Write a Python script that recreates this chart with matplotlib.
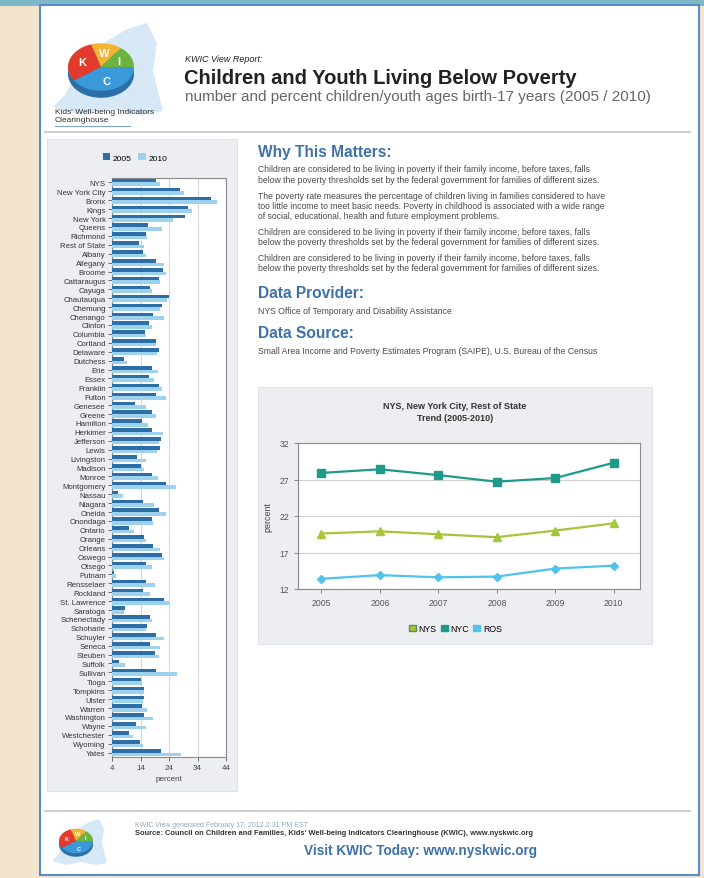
import numpy as np
import matplotlib.pyplot as plt
from matplotlib.patches import Rectangle, Polygon, Patch

plt.rcParams['font.family'] = ['Liberation Sans', 'DejaVu Sans']

# ---- data ----
counties = ['NYS', 'New York City', 'Bronx', 'Kings', 'New York', 'Queens',
            'Richmond', 'Rest of State', 'Albany', 'Allegany', 'Broome',
            'Cattaraugus', 'Cayuga', 'Chautauqua', 'Chemung', 'Chenango',
            'Clinton', 'Columbia', 'Cortland', 'Delaware', 'Dutchess', 'Erie',
            'Essex', 'Franklin', 'Fulton', 'Genesee', 'Greene', 'Hamilton',
            'Herkimer', 'Jefferson', 'Lewis', 'Livingston', 'Madison',
            'Monroe', 'Montgomery', 'Nassau', 'Niagara', 'Oneida', 'Onondaga',
            'Ontario', 'Orange', 'Orleans', 'Oswego', 'Otsego', 'Putnam',
            'Rensselaer', 'Rockland', 'St. Lawrence', 'Saratoga',
            'Schenectady', 'Schoharie', 'Schuyler', 'Seneca', 'Steuben',
            'Suffolk', 'Sullivan', 'Tioga', 'Tompkins', 'Ulster', 'Warren',
            'Washington', 'Wayne', 'Westchester', 'Wyoming', 'Yates']
pct_2005 = [19.6, 27.9, 38.7, 30.5, 29.6, 16.7, 15.8, 13.4, 14.9, 19.6, 21.9,
            20.5, 17.5, 24.0, 21.4, 18.4, 16.9, 15.5, 19.6, 20.5, 8.1, 17.9,
            16.9, 20.5, 19.6, 12.0, 18.1, 14.4, 17.9, 21.1, 20.7, 12.8, 14.0,
            17.9, 22.8, 6.1, 14.9, 20.5, 17.9, 10.1, 15.2, 18.4, 21.6, 16.1,
            4.6, 15.8, 14.9, 22.2, 8.5, 17.3, 16.4, 19.5, 17.5, 19.1, 6.6,
            19.5, 14.0, 15.4, 15.4, 14.6, 15.4, 12.5, 10.1, 13.8, 21.1]
pct_2010 = [21.0, 29.3, 41.0, 32.2, 25.5, 21.6, 16.4, 15.2, 15.8, 22.2, 22.8,
            21.0, 18.1, 23.4, 21.0, 22.2, 17.9, 15.8, 19.3, 19.9, 9.3, 20.2,
            18.7, 21.6, 22.8, 15.8, 19.3, 16.7, 21.9, 20.5, 19.9, 15.8, 15.2,
            20.2, 26.6, 7.8, 18.7, 22.8, 18.4, 11.6, 15.8, 21.0, 22.2, 17.9,
            5.4, 19.1, 17.5, 24.0, 8.1, 17.9, 15.8, 22.2, 21.0, 20.5, 8.5,
            26.9, 14.4, 15.2, 14.9, 16.4, 18.4, 15.8, 11.3, 14.8, 28.1]
bar_ticks = [4, 14, 24, 34, 44]

years = [2005, 2006, 2007, 2008, 2009, 2010]
nys = [19.6, 19.9, 19.5, 19.1, 20.0, 21.0]
nyc = [27.9, 28.4, 27.6, 26.7, 27.2, 29.3]
ros = [13.4, 13.9, 13.6, 13.7, 14.8, 15.2]
line_ticks = [12, 17, 22, 27, 32]

why_paras = [
    ["Children are considered to be living in poverty if their family income, before taxes, falls",
     "below the poverty thresholds set by the federal government for families of different sizes."],
    ["The poverty rate measures the percentage of children living in families considered to have",
     "too little income to meet basic needs. Poverty in childhood is associated with a wide range",
     "of social, educational, health and future employment problems."],
    ["Children are considered to be living in poverty if their family income, before taxes, falls",
     "below the poverty thresholds set by the federal government for families of different sizes."],
    ["Children are considered to be living in poverty if their family income, before taxes, falls",
     "below the poverty thresholds set by the federal government for families of different sizes."],
]
logo_shares = [30, 15, 15, 40]
logo_colors = ['#e23b2e', '#f2b431', '#6db33f', '#3a9ad9']
logo_letters = ['K', 'W', 'I', 'C']

# ---- page ----
W, H = 704, 879
fig = plt.figure(figsize=(W / 100, H / 100), dpi=100)
fig.patch.set_facecolor('#f3e4cd')
bg = fig.add_axes([0, 0, 1, 1])
bg.set_xlim(0, W)
bg.set_ylim(H, 0)
bg.axis('off')


def rect(x0, y0, x1, y1):
    return [x0 / W, 1 - y1 / H, (x1 - x0) / W, (y1 - y0) / H]


bg.add_patch(Rectangle((0, 0), W, 7, color='#7db6c6', lw=0))
bg.add_patch(Rectangle((40, 6), 659, 870, facecolor='white',
                       edgecolor='#5a8ccc', lw=1.5))

blue_head = '#3f72a8'


def logo(cx, cy, r, scale=1.0):
    # rough state silhouette behind the pie
    pts = np.array([(-48, 40), (-36, 28), (-26, 10), (-12, -10), (6, -26),
                    (26, -38), (46, -44), (56, -24), (52, 4), (58, 28),
                    (62, 44), (40, 48), (10, 42), (-20, 48)]) * scale
    bg.add_patch(Polygon(pts + [cx, cy], closed=True, color='#d6e7f5', lw=0))
    sy = 0.72
    th = np.linspace(0, 2 * np.pi, 100)
    side = np.c_[cx + r * np.cos(th), cy + 7 * scale - r * sy * np.sin(th)]
    bg.add_patch(Polygon(side, closed=True, color='#2a6fa8', lw=0))
    start = 215
    for share, col, let in zip(logo_shares, logo_colors, logo_letters):
        a0 = np.radians(start)
        a1 = np.radians(start - share * 3.6)
        t = np.linspace(a0, a1, 40)
        p = np.r_[[[cx, cy]], np.c_[cx + r * np.cos(t), cy - r * sy * np.sin(t)]]
        bg.add_patch(Polygon(p, closed=True, color=col, lw=0))
        am = (a0 + a1) / 2
        bg.text(cx + 0.6 * r * np.cos(am), cy - 0.6 * r * sy * np.sin(am), let,
                color='white', fontsize=8 * scale, fontweight='bold',
                ha='center', va='center')
        start -= share * 3.6


logo(101, 68, 33)
bg.text(55, 113, "Kids' Well-being Indicators", fontsize=6, color='#333', va='center')
bg.text(55, 121, "Clearinghouse", fontsize=6, color='#333', va='center')
bg.plot([55, 130], [126.5, 126.5], color='#7fa7cf', lw=0.8)

bg.text(185, 60, "KWIC View Report:", fontsize=6.5, style='italic', color='#222', va='center')
bg.text(184, 79, "Children and Youth Living Below Poverty", fontsize=14.5,
        fontweight='bold', color='#222', va='center')
bg.text(185, 97, "number and percent children/youth ages birth-17 years (2005 / 2010)",
        fontsize=11, color='#666', va='center')
bg.plot([45, 690], [133, 133], color='#cfcfcf', lw=1.5)

# ---- right text column ----
bg.text(258, 153, "Why This Matters:", fontsize=11.2, fontweight='bold', color=blue_head, va='center')
yy = 170
for para in why_paras:
    for line in para:
        bg.text(258, yy, line, fontsize=6.2, color='#4a4a4a', va='center')
        yy += 10.3
    yy += 5.5
bg.text(258, 294, "Data Provider:", fontsize=11.2, fontweight='bold', color=blue_head, va='center')
bg.text(258, 312, "NYS Office of Temporary and Disability Assistance", fontsize=6.2,
        color='#4a4a4a', va='center')
bg.text(258, 334, "Data Source:", fontsize=11.2, fontweight='bold', color=blue_head, va='center')
bg.text(258, 352, "Small Area Income and Poverty Estimates Program (SAIPE), U.S. Bureau of the Census",
        fontsize=6.2, color='#4a4a4a', va='center')

# ---- bar chart panel ----
bg.add_patch(Rectangle((47, 140), 190, 652, facecolor='#eceef1', edgecolor='#e0e2e6', lw=0.8))
ax = fig.add_axes(rect(112, 179, 226, 758))
y = np.arange(len(counties))
b1 = ax.barh(y - 0.2, pct_2005, height=0.4, color='#2e6ea6', zorder=3)
b2 = ax.barh(y + 0.2, pct_2010, height=0.4, color='#9dd2ee', zorder=3)
ax.set_xlim(4, 44)
ax.set_ylim(len(counties) - 0.5, -0.5)
ax.set_xticks(bar_ticks)
ax.set_xticklabels([str(t) for t in bar_ticks], fontsize=5.8, color='#444')
ax.set_yticks(y)
ax.set_yticklabels(counties, fontsize=5.6, color='#333')
ax.tick_params(axis='y', length=3, pad=1.5, width=0.6, color='#555')
ax.tick_params(axis='x', length=3, pad=2, width=0.6, color='#555')
ax.grid(axis='x', color='#d6d6d6', lw=0.8, zorder=0)
for s in ax.spines.values():
    s.set_color('#8a8a8a')
    s.set_linewidth(0.8)
ax.set_xlabel('percent', fontsize=5.8, color='#444', labelpad=3)
ax.legend([b1, b2], ['2005', '2010'], ncol=2, frameon=False, fontsize=6,
          handlelength=0.9, handleheight=0.9, columnspacing=0.8, handletextpad=0.3,
          loc='lower center', bbox_to_anchor=(0.2, 1.015))

# ---- line chart panel ----
bg.add_patch(Rectangle((258, 388), 394, 257, facecolor='#eceef1', edgecolor='#e0e2e6', lw=0.8))
bg.text(455, 407, "NYS, New York City, Rest of State", fontsize=6.5, fontweight='bold',
        color='#333', ha='center', va='center')
bg.text(455, 419, "Trend (2005-2010)", fontsize=6.5, fontweight='bold',
        color='#333', ha='center', va='center')
lx = fig.add_axes(rect(298, 444, 640, 590))
c_nys, c_nyc, c_ros = '#a5c63b', '#1f9a8a', '#4fc3ea'
lx.plot(years, nyc, color=c_nyc, lw=1.6, marker='s', ms=6, zorder=3)
lx.plot(years, nys, color=c_nys, lw=1.6, marker='^', ms=6, zorder=3)
lx.plot(years, ros, color=c_ros, lw=1.6, marker='D', ms=4.5, zorder=3)
lx.set_xlim(2004.6, 2010.45)
lx.set_ylim(12, 32)
lx.set_yticks(line_ticks)
lx.set_xticks(years)
lx.tick_params(labelsize=6.2, labelcolor='#555', length=3, width=0.6, color='#777')
lx.grid(axis='y', color='#d0d0d0', lw=0.8, zorder=0)
for s in lx.spines.values():
    s.set_color('#8a8a8a')
    s.set_linewidth(0.8)
lx.set_ylabel('percent', fontsize=6.5, color='#444', labelpad=5)
handles = [Patch(facecolor=c, edgecolor='#6a8a5a' if c == c_nys else c) for c in (c_nys, c_nyc, c_ros)]
lx.legend(handles, ['NYS', 'NYC', 'ROS'], ncol=3, frameon=False, fontsize=6.3,
          handlelength=0.8, handleheight=0.8, columnspacing=0.5, handletextpad=0.3,
          loc='center', bbox_to_anchor=(0.46, -0.27))

# ---- footer ----
bg.plot([45, 690], [812, 812], color='#cfcfcf', lw=1.5)
logo(76, 842, 17, scale=0.5)
bg.text(135, 826, "KWIC View generated February 17, 2012 2:31 PM EST", fontsize=5,
        color='#8fa9c4', va='center')
bg.text(135, 834, "Source: Council on Children and Families, Kids' Well-being Indicators Clearinghouse (KWIC), www.nyskwic.org",
        fontsize=5.4, fontweight='bold', color='#333', va='center')
bg.text(421, 851, "Visit KWIC Today: www.nyskwic.org", fontsize=9.8, fontweight='bold',
        color=blue_head, ha='center', va='center')

fig.savefig('out.png', dpi=100, facecolor=fig.get_facecolor())
